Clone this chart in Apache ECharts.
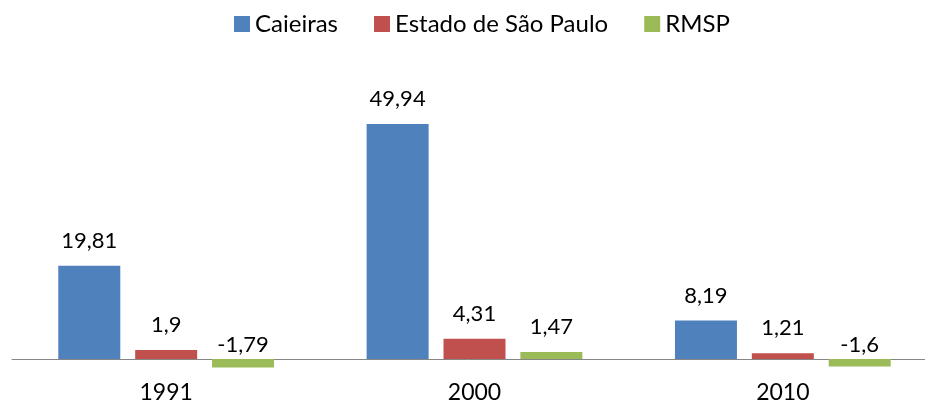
<!DOCTYPE html>
<html>
<head>
<meta charset="utf-8">
<script src="https://cdn.jsdelivr.net/npm/echarts@6/dist/echarts.min.js"></script>
<style>
  html, body { margin: 0; padding: 0; background: #fff; }
  #main { width: 925px; height: 405px; }
</style>
</head>
<body>
<div id="main"></div>
<script>
var years = ['1991', '2000', '2010']
var caieiras = [19.81, 49.94, 8.19]
var estadoSP = [1.9, 4.31, 1.21]
var rmsp = [-1.79, 1.47, -1.6]

var font = 'Lato, "Open Sans", sans-serif'

function fmt (v) {
  return String(v).replace('.', ',')
}

function makeSeries (name, values, color) {
  return {
    name: name,
    type: 'bar',
    barWidth: 62,
    barGap: '24%',
    itemStyle: { color: color },
    data: values.map(function (v) {
      // negative bars: label sits just above the axis line
      return {
        value: v,
        label: v < 0 ? { position: 'top', distance: 3 } : {}
      }
    }),
    label: {
      show: true,
      position: 'top',
      distance: 14,
      color: '#000',
      fontFamily: font,
      fontSize: 22,
      formatter: function (p) { return fmt(p.value) }
    }
  }
}

var chartDom = document.getElementById('main')
var myChart = echarts.init(chartDom)
var option

option = {
  animation: false,
  textStyle: { fontFamily: font },
  legend: {
    top: 7,
    left: 229,
    itemWidth: 16,
    itemHeight: 16,
    itemGap: 36,
    icon: 'rect',
    textStyle: { fontFamily: font, fontSize: 24, color: '#000' },
    data: ['Caieiras', 'Estado de São Paulo', 'RMSP']
  },
  grid: {
    left: 12,
    width: 925,
    top: 123.7,
    bottom: 36.6,
    outerBoundsMode: 'none',
    containLabel: false
  },
  xAxis: {
    type: 'category',
    data: years,
    axisTick: { show: false },
    axisLine: { lineStyle: { color: '#868686', width: 1 } },
    axisLabel: { margin: 13, color: '#000', fontFamily: font, fontSize: 23 }
  },
  yAxis: {
    type: 'value',
    min: -2,
    max: 50,
    show: false,
    splitLine: { show: false }
  },
  series: [
    makeSeries('Caieiras', caieiras, '#4f81bd'),
    makeSeries('Estado de São Paulo', estadoSP, '#c0504d'),
    makeSeries('RMSP', rmsp, '#9bbb59')
  ]
}

option && myChart.setOption(option)
</script>
</body>
</html>
